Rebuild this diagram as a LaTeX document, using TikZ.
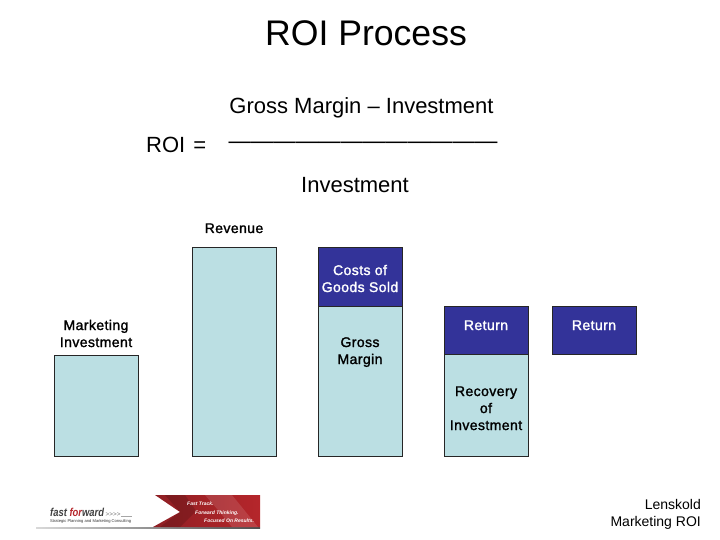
\documentclass[tikz,border=0pt]{standalone}
\usepackage{fontspec}
\setmainfont{Liberation Sans}
\usetikzlibrary{shadings}
\definecolor{paleblue}{HTML}{BBDFE3}
\definecolor{navyfill}{HTML}{333399}
\definecolor{logored}{HTML}{B5262B}
\definecolor{logodark}{HTML}{8E1F24}
\newfontfamily\fakebold[FakeBold=1.6,LetterSpace=3]{Liberation Sans}
\tikzset{
  lightbox/.style={draw=black!85,line width=0.8pt,fill=paleblue},
  darkbox/.style={draw=black!85,line width=0.8pt,fill=navyfill},
  big/.style={anchor=base,inner sep=0pt,font=\fontsize{22}{26}\selectfont},
  small/.style={anchor=base,inner sep=0pt,align=center,font=\fakebold\fontsize{14}{17}\selectfont},
  logotext/.style={anchor=base west,inner sep=0pt,text=white,font=\itshape\bfseries\fontsize{5}{5}\selectfont},
}
\begin{document}
\begin{tikzpicture}[x=1pt,y=-1pt]
\useasboundingbox (0,0) rectangle (720,540);
% boxes
\path[lightbox] (54,355) rectangle (138,456) coordinate (mkt);
\path[lightbox] (192,247) rectangle (276,456) coordinate (rev);
\path[lightbox] (318,306) rectangle (402,456) coordinate (gm);
\path[darkbox] (318,247) rectangle (402,306) coordinate (cogs);
\path[lightbox] (444,354) rectangle (528,456) coordinate (rec);
\path[darkbox] (444,306) rectangle (528,354) coordinate (ret1);
\path[darkbox] (552,306) rectangle (636,354) coordinate (ret2);
% titles
\node[anchor=base,inner sep=0pt,font=\fontsize{35.6}{40}\selectfont] (title) at (366,46) {ROI Process};
\node[big] (num) at (361.5,114) {Gross Margin – Investment};
\node[big,anchor=base west] (roi) at (146,153) {ROI\hspace{2pt} =};
\node[big,font=\fontsize{22.4}{26}\selectfont] (bar) at (363,149) {————————————};
\node[big] (den) at (355,193) {Investment};
% labels
\node[small] (lrev) at (234,233) {Revenue};
\node[small] (lmkt) at (96,347) {Marketing\\Investment};
\node[small,text=white] (lcogs) at (360,292) {Costs of\\Goods Sold};
\node[small] (lgm) at (360,364) {Gross\\Margin};
\node[small,text=white] (lret1) at (486,330) {Return};
\node[small,text=white] (lret2) at (594,330) {Return};
\node[small] (lrec) at (486,430) {Recovery\\of\\Investment};
\node[anchor=base east,inner sep=0pt,align=right,font=\fontsize{14}{17}\selectfont] (foot) at (701,526) {Lenskold\\Marketing ROI};
% logo
\path[left color=gray!30,right color=black!70] (36,527) rectangle (260,528.5);
\path[left color=logodark,right color=logored,middle color=logored!90!black]
  (155,495) -- (260,495) -- (260,527) -- (153,527) -- (180,512) -- cycle;
\path[fill=white,opacity=.12] (205,495) -- (232,495) -- (258,527) -- (232,527) -- (218,510) -- cycle;
\path[fill=black,opacity=.15] (165,495) -- (185,495) -- (196,511) -- (180,527) -- (160,527) -- (180,512) -- cycle;
\node[anchor=base west,inner sep=0pt,xscale=.82,transform shape,font=\itshape\bfseries\fontsize{11.5}{12}\selectfont,text=black!75] (ff) at (50,516)
  {fast \textcolor{logored}{for}ward};
\node[anchor=base west,inner sep=0pt,font=\fontsize{6.4}{7}\selectfont,text=black!55] (ffm) at (105.5,516) {>{}>{}>{}>};
\node[anchor=base west,inner sep=0pt,font=\fontsize{4.1}{5}\selectfont,text=black!80] (ffs) at (50,522.5) {Strategic Planning and Marketing Consulting};
\coordinate (ffe) at (132,516.5);
\draw[black!35,line width=0.4pt] (ffm.base east) ++(0,.5) -- (ffe);
\node[logotext] (t1) at (187,505) {Fast Track.};
\node[logotext] (t2) at (195,514) {Forward Thinking.};
\node[logotext] (t3) at (204,522) {Focused On Results.};
\end{tikzpicture}
\end{document}
